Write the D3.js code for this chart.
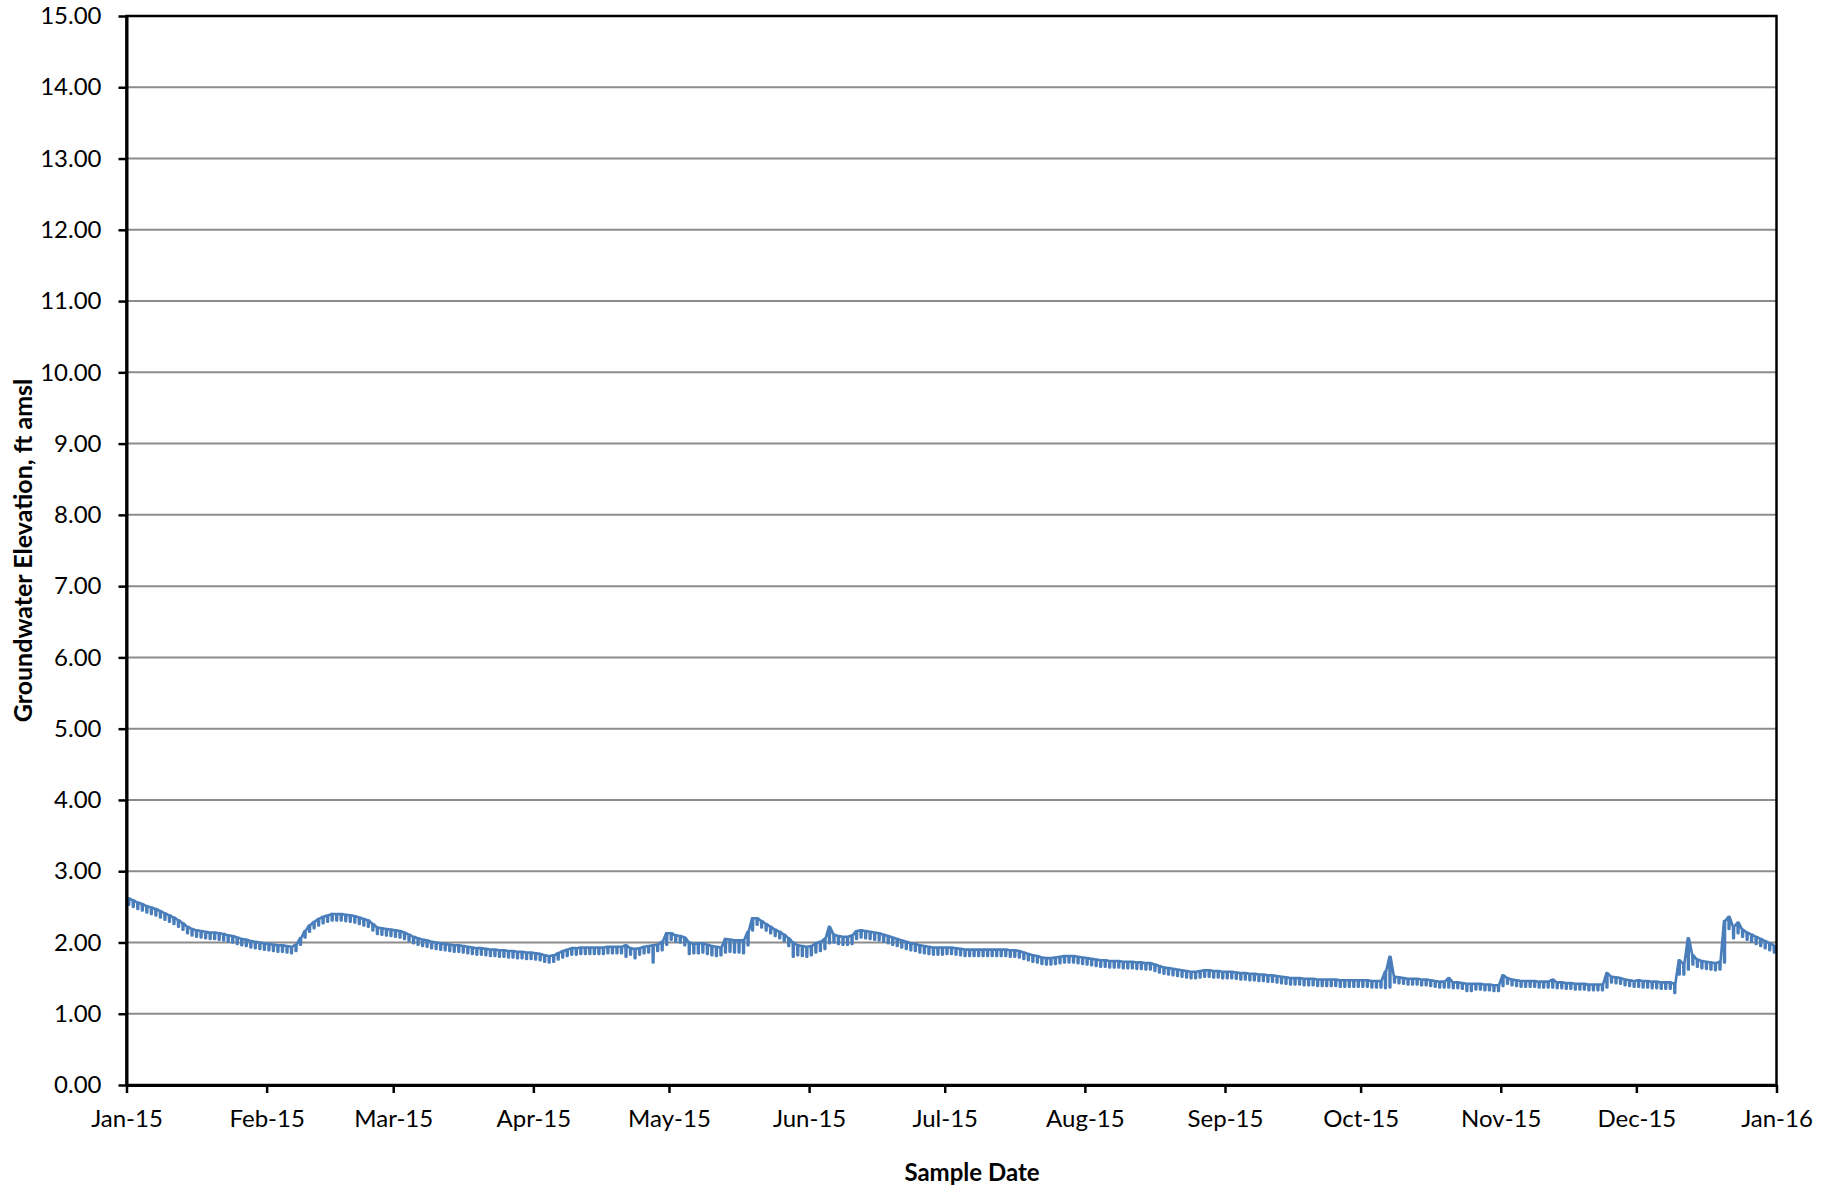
<!DOCTYPE html>
<html>
<head>
<meta charset="utf-8">
<script src="https://cdn.jsdelivr.net/npm/d3@7"></script>
<style>
  html, body { margin: 0; padding: 0; background: #fff; }
  svg { display: block; }
  text { font-family: Lato, "Open Sans", sans-serif; fill: #000; }
</style>
</head>
<body>
<svg id="chart" width="1835" height="1189"></svg>
<script>
// ---------------- data ----------------
const startDate = "2015-01-01";
const endDate = "2016-01-01";
const xTickDates = ["2015-01-01","2015-02-01","2015-03-01","2015-04-01","2015-05-01","2015-06-01",
  "2015-07-01","2015-08-01","2015-09-01","2015-10-01","2015-11-01","2015-12-01","2016-01-01"];
const xTickLabels = ["Jan-15","Feb-15","Mar-15","Apr-15","May-15","Jun-15","Jul-15","Aug-15",
  "Sep-15","Oct-15","Nov-15","Dec-15","Jan-16"];
const yTicks = [0,1,2,3,4,5,6,7,8,9,10,11,12,13,14,15];
const yTitle = "Groundwater Elevation, ft amsl";
const xTitle = "Sample Date";

// daily high reading (ft amsl), Jan 1 .. Dec 31 2015
const dailyHigh = [
  // Jan
  2.62,2.59,2.56,2.54,2.51,2.49,2.47,2.44,2.41,2.38,2.35,2.31,2.27,2.22,2.19,2.17,2.16,2.15,2.14,2.14,2.13,2.12,2.10,2.09,2.07,2.05,2.04,2.02,2.01,2.00,1.99,
  // Feb
  1.98,1.97,1.96,1.96,1.95,1.94,1.97,2.06,2.16,2.24,2.29,2.33,2.36,2.38,2.40,2.40,2.40,2.39,2.38,2.37,2.35,2.33,2.31,2.26,2.21,2.20,2.19,2.18,
  // Mar
  2.17,2.16,2.14,2.11,2.08,2.06,2.04,2.03,2.01,2.00,1.99,1.98,1.97,1.96,1.96,1.95,1.94,1.93,1.92,1.92,1.91,1.90,1.90,1.89,1.89,1.88,1.88,1.87,1.87,1.86,1.86,
  // Apr
  1.85,1.84,1.82,1.81,1.82,1.85,1.88,1.90,1.92,1.92,1.93,1.93,1.93,1.93,1.93,1.93,1.94,1.94,1.94,1.94,1.96,1.92,1.91,1.92,1.94,1.95,1.96,1.97,2.01,2.13,
  // May
  2.13,2.10,2.09,2.07,2.00,1.98,1.99,1.99,1.97,1.95,1.94,1.93,2.05,2.04,2.03,2.03,2.03,2.15,2.34,2.34,2.30,2.26,2.22,2.18,2.15,2.11,2.06,2.00,1.96,1.95,1.94,
  // Jun
  1.95,1.99,2.01,2.05,2.22,2.11,2.09,2.08,2.08,2.10,2.16,2.17,2.16,2.15,2.14,2.13,2.11,2.09,2.07,2.05,2.03,2.01,1.99,1.98,1.96,1.95,1.94,1.93,1.93,1.93,
  // Jul
  1.93,1.93,1.92,1.91,1.90,1.90,1.90,1.90,1.90,1.90,1.90,1.90,1.90,1.90,1.89,1.89,1.88,1.86,1.84,1.82,1.81,1.79,1.78,1.78,1.79,1.80,1.81,1.81,1.81,1.80,1.79,
  // Aug
  1.78,1.77,1.76,1.75,1.75,1.74,1.74,1.74,1.73,1.73,1.73,1.72,1.72,1.71,1.71,1.69,1.67,1.65,1.64,1.63,1.62,1.61,1.60,1.59,1.59,1.60,1.61,1.61,1.60,1.60,1.59,
  // Sep
  1.59,1.59,1.58,1.57,1.57,1.56,1.56,1.55,1.55,1.54,1.54,1.53,1.52,1.51,1.50,1.50,1.50,1.49,1.49,1.49,1.48,1.48,1.48,1.48,1.48,1.47,1.47,1.47,1.47,1.47,
  // Oct
  1.47,1.47,1.46,1.46,1.46,1.59,1.80,1.52,1.51,1.50,1.49,1.49,1.49,1.48,1.48,1.47,1.46,1.45,1.45,1.50,1.44,1.44,1.43,1.42,1.42,1.42,1.42,1.41,1.41,1.40,1.40,
  // Nov
  1.54,1.50,1.48,1.47,1.46,1.46,1.46,1.46,1.45,1.45,1.45,1.48,1.44,1.44,1.43,1.43,1.42,1.42,1.42,1.41,1.41,1.41,1.41,1.57,1.52,1.51,1.50,1.48,1.47,1.46,
  // Dec
  1.47,1.46,1.46,1.45,1.45,1.44,1.44,1.44,1.42,1.75,1.70,2.06,1.82,1.76,1.74,1.73,1.72,1.71,1.73,2.30,2.36,2.22,2.28,2.18,2.14,2.11,2.08,2.05,2.02,1.99,1.96
];

// daily low reading (ft amsl), Jan 1 .. Dec 31 2015
const dailyLow = [
  // Jan
  2.53,2.50,2.47,2.45,2.42,2.40,2.38,2.35,2.32,2.29,2.26,2.22,2.18,2.13,2.10,2.08,2.07,2.06,2.05,2.05,2.04,2.03,2.01,2.00,1.98,1.96,1.95,1.93,1.92,1.91,1.90,
  // Feb
  1.89,1.88,1.87,1.87,1.86,1.85,1.88,1.97,2.07,2.15,2.20,2.24,2.27,2.29,2.31,2.31,2.31,2.30,2.29,2.28,2.26,2.24,2.22,2.17,2.12,2.11,2.10,2.09,
  // Mar
  2.08,2.07,2.05,2.02,1.99,1.97,1.95,1.94,1.92,1.91,1.90,1.89,1.88,1.87,1.87,1.86,1.85,1.84,1.83,1.83,1.82,1.81,1.81,1.80,1.80,1.79,1.79,1.78,1.78,1.77,1.77,
  // Apr
  1.76,1.75,1.73,1.72,1.73,1.76,1.79,1.81,1.83,1.83,1.84,1.84,1.84,1.84,1.84,1.84,1.85,1.85,1.85,1.85,1.80,1.83,1.78,1.83,1.85,1.86,1.72,1.88,1.89,1.97,
  // May
  2.04,2.01,2.00,1.96,1.84,1.85,1.85,1.86,1.84,1.82,1.81,1.82,1.86,1.87,1.86,1.86,1.85,1.96,2.17,2.25,2.21,2.17,2.13,2.09,2.06,2.02,1.95,1.80,1.82,1.81,1.80,
  // Jun
  1.82,1.86,1.88,1.91,1.99,2.00,1.98,1.97,1.97,1.98,2.05,2.07,2.06,2.05,2.04,2.03,2.01,1.99,1.97,1.95,1.93,1.91,1.89,1.88,1.86,1.85,1.84,1.83,1.83,1.83,
  // Jul
  1.84,1.84,1.83,1.82,1.81,1.81,1.81,1.81,1.81,1.81,1.81,1.81,1.81,1.81,1.80,1.80,1.79,1.77,1.75,1.73,1.72,1.70,1.69,1.69,1.70,1.71,1.72,1.72,1.72,1.71,1.70,
  // Aug
  1.69,1.68,1.67,1.66,1.66,1.65,1.65,1.65,1.64,1.64,1.64,1.63,1.63,1.62,1.62,1.60,1.58,1.56,1.55,1.54,1.53,1.52,1.51,1.50,1.50,1.51,1.52,1.52,1.51,1.51,1.50,
  // Sep
  1.50,1.50,1.49,1.48,1.48,1.47,1.47,1.46,1.46,1.45,1.45,1.44,1.43,1.42,1.41,1.41,1.41,1.40,1.40,1.40,1.39,1.39,1.39,1.39,1.39,1.38,1.38,1.38,1.38,1.38,
  // Oct
  1.38,1.38,1.37,1.37,1.37,1.36,1.37,1.44,1.43,1.42,1.41,1.41,1.41,1.40,1.40,1.39,1.38,1.37,1.37,1.37,1.36,1.36,1.35,1.32,1.32,1.34,1.34,1.33,1.33,1.32,1.32,
  // Nov
  1.39,1.42,1.40,1.39,1.38,1.38,1.38,1.38,1.37,1.37,1.37,1.37,1.36,1.36,1.35,1.35,1.34,1.34,1.34,1.33,1.33,1.33,1.33,1.37,1.44,1.43,1.42,1.40,1.39,1.38,
  // Dec
  1.38,1.37,1.37,1.36,1.36,1.35,1.35,1.35,1.29,1.55,1.55,1.62,1.69,1.66,1.64,1.63,1.62,1.61,1.62,1.72,2.19,2.06,2.13,2.08,2.04,2.01,1.98,1.95,1.92,1.89,1.86
];

// ---------------- chart ----------------
const svg = d3.select("#chart");
const W = 1835, H = 1189;
const margin = { left: 126.5, right: W - 1776.5, top: 16, bottom: H - 1085 };

const x = d3.scaleUtc()
  .domain([new Date(startDate), new Date(endDate)])
  .range([margin.left, W - margin.right]);
const y = d3.scaleLinear()
  .domain([0, 15])
  .range([H - margin.bottom, margin.top]);

// gridlines
svg.append("g")
  .selectAll("line")
  .data(yTicks.filter(v => v > 0 && v < 15))
  .join("line")
  .attr("x1", x.range()[0]).attr("x2", x.range()[1])
  .attr("y1", d => y(d)).attr("y2", d => y(d))
  .attr("stroke", "#8c8c8c").attr("stroke-width", 2);

// build series: each day the reading drops from its high to its low and recovers
const dayMs = 86400000;
const t0 = new Date(startDate).getTime();
const pts = [];
dailyHigh.forEach((hi, i) => {
  const lo = dailyLow[i];
  pts.push({ t: new Date(t0 + (i + 0.38) * dayMs), v: hi });
  pts.push({ t: new Date(t0 + (i + 0.42) * dayMs), v: lo });
  pts.push({ t: new Date(t0 + (i + 0.58) * dayMs), v: lo });
  pts.push({ t: new Date(t0 + (i + 0.62) * dayMs), v: hi });
});

const line = d3.line().x(d => x(d.t)).y(d => y(d.v));
svg.append("path")
  .datum(pts)
  .attr("d", line)
  .attr("fill", "none")
  .attr("stroke", "#4a7ebb")
  .attr("stroke-width", 2.6)
  .attr("stroke-linejoin", "round");

// plot border (top & right)
svg.append("rect")
  .attr("x", x.range()[0]).attr("y", y(15))
  .attr("width", x.range()[1] - x.range()[0])
  .attr("height", y(0) - y(15))
  .attr("fill", "none").attr("stroke", "#000").attr("stroke-width", 2.5);

// y axis
const yAxis = d3.axisLeft(y)
  .tickValues(yTicks)
  .tickFormat(d => d.toFixed(2))
  .tickSize(8)
  .tickSizeOuter(0)
  .tickPadding(17);
const gy = svg.append("g")
  .attr("transform", `translate(${x.range()[0]},0)`)
  .call(yAxis);
gy.select(".domain").attr("stroke", "#000").attr("stroke-width", 3);
gy.selectAll(".tick line").attr("stroke", "#000").attr("stroke-width", 2.5);
gy.selectAll(".tick text").attr("font-size", 24).attr("font-family", "Lato, sans-serif").attr("fill", "#000");

// x axis
const xAxis = d3.axisBottom(x)
  .tickValues(xTickDates.map(s => new Date(s)))
  .tickFormat((d, i) => xTickLabels[i])
  .tickSize(8)
  .tickSizeOuter(0)
  .tickPadding(17);
const gx = svg.append("g")
  .attr("transform", `translate(0,${y(0)})`)
  .call(xAxis);
gx.select(".domain").attr("stroke", "#000").attr("stroke-width", 3);
gx.selectAll(".tick line").attr("stroke", "#000").attr("stroke-width", 2.5);
gx.selectAll(".tick text").attr("font-size", 24).attr("font-family", "Lato, sans-serif").attr("fill", "#000");

// titles
svg.append("text")
  .attr("x", 972).attr("y", 1181)
  .attr("text-anchor", "middle")
  .attr("font-size", 24).attr("font-weight", "bold")
  .text(xTitle);
svg.append("text")
  .attr("transform", `translate(32,${(y(0) + y(15)) / 2}) rotate(-90)`)
  .attr("text-anchor", "middle")
  .attr("font-size", 25).attr("font-weight", "bold")
  .text(yTitle);
</script>
</body>
</html>
